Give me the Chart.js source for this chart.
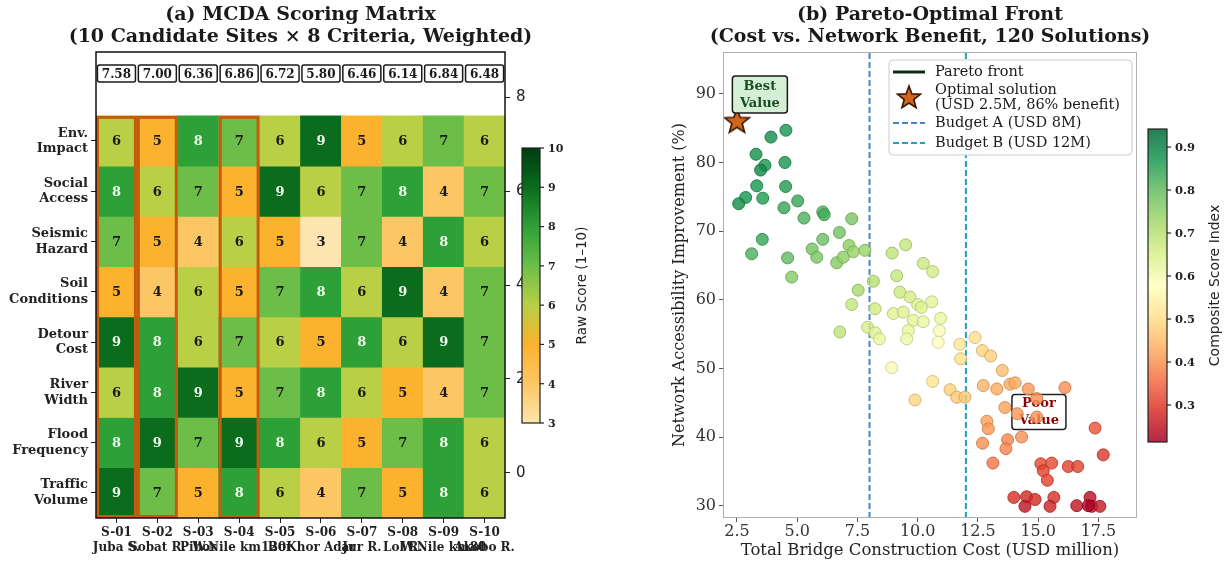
<!DOCTYPE html>
<html>
<head>
<meta charset="utf-8">
<script src="https://cdn.jsdelivr.net/npm/chart.js@4.4.1/dist/chart.umd.min.js"></script>
<style>
  html, body { margin: 0; padding: 0; background: #fff; }
  #wrap { position: relative; width: 1229px; height: 562px; }
  .panel { position: absolute; top: 0; height: 562px; }
  #left { left: 0; width: 614px; }
  #right { left: 614px; width: 615px; }
</style>
</head>
<body>
<div id="wrap">
  <div class="panel" id="left"><canvas id="heatChart"></canvas></div>
  <div class="panel" id="right"><canvas id="paretoChart"></canvas></div>
</div>
<script>
// ---- (a) MCDA matrix data
var sites = ["S-01", "S-02", "S-03", "S-04", "S-05", "S-06", "S-07", "S-08", "S-09", "S-10"];
var siteNames = ["Juba S.", "Sobat R.", "Pibor", "W.Nile km120", "Bor", "Khor Adar", "Jur R.", "Lol R.", "W.Nile km80", "Akobo R."];
var criteria = [["Env.", "Impact"], ["Social", "Access"], ["Seismic", "Hazard"], ["Soil", "Conditions"],
                ["Detour", "Cost"], ["River", "Width"], ["Flood", "Frequency"], ["Traffic", "Volume"]];
var envImpact      = [6, 5, 8, 7, 6, 9, 5, 6, 7, 6];
var socialAccess   = [8, 6, 7, 5, 9, 6, 7, 8, 4, 7];
var seismicHazard  = [7, 5, 4, 6, 5, 3, 7, 4, 8, 6];
var soilConditions = [5, 4, 6, 5, 7, 8, 6, 9, 4, 7];
var detourCost     = [9, 8, 6, 7, 6, 5, 8, 6, 9, 7];
var riverWidth     = [6, 8, 9, 5, 7, 8, 6, 5, 4, 7];
var floodFrequency = [8, 9, 7, 9, 8, 6, 5, 7, 8, 6];
var trafficVolume  = [9, 7, 5, 8, 6, 4, 7, 5, 8, 6];
var compositeScores = [7.58, 7.00, 6.36, 6.86, 6.72, 5.80, 6.46, 6.14, 6.84, 6.48];
var shortlisted = [0, 1, 3];
var scoreRows = [envImpact, socialAccess, seismicHazard, soilConditions, detourCost, riverWidth, floodFrequency, trafficVolume];

// ---- (b) Pareto data
var costs = [4.53, 3.91, 3.29, 4.49, 3.66, 3.48, 3.32, 4.52, 2.86, 2.57, 3.57, 4.45, 5.02, 5.28, 6.06, 6.12, 7.26, 3.55, 6.75, 6.06,
  3.11, 5.62, 5.81, 4.60, 7.15, 6.64, 6.91, 7.33, 7.81, 4.77, 8.94, 9.50, 9.13, 10.23, 10.62, 8.16, 7.53, 9.26, 9.68, 10.0,
  7.26, 8.23, 10.58, 8.99, 9.40, 10.95, 9.82, 10.23, 6.77, 7.92, 8.23, 8.41, 9.61, 9.54, 10.90, 10.85, 11.75, 12.38, 11.78, 12.68,
  13.03, 8.92, 13.51, 10.62, 12.72, 13.28, 13.83, 14.04, 11.34, 11.62, 11.96, 9.89, 14.59, 16.11, 14.94, 13.62, 14.13, 14.94, 12.87, 12.93,
  14.31, 13.73, 12.69, 13.66, 17.36, 17.70, 13.12, 15.11, 15.56, 15.21, 15.38, 16.25, 16.64, 13.99, 14.52, 14.87, 15.65, 14.45, 15.49, 16.60,
  17.15, 17.22, 17.56, 17.08, 10.15];
var benefits = [84.7, 83.7, 81.2, 80.0, 79.6, 78.9, 76.6, 76.5, 74.9, 74.0, 74.8, 73.4, 74.4, 71.9, 72.8, 72.4, 71.8, 68.8, 69.8, 68.8,
  66.7, 67.4, 66.2, 66.1, 67.9, 65.4, 66.2, 67.0, 67.2, 63.3, 66.8, 68.0, 63.5, 65.3, 64.1, 62.7, 61.4, 61.1, 60.4, 59.3,
  59.3, 58.7, 59.7, 58.0, 58.2, 57.3, 57.0, 56.8, 55.3, 56.0, 55.2, 54.3, 55.5, 54.3, 55.5, 53.8, 53.5, 54.5, 51.4, 52.6,
  51.8, 50.1, 49.7, 48.1, 47.5, 47.0, 47.7, 47.9, 46.9, 45.8, 45.8, 45.4, 47.0, 47.2, 45.6, 44.3, 43.4, 42.9, 42.3, 41.2,
  40.0, 39.6, 39.1, 38.3, 41.3, 37.4, 36.2, 36.1, 36.2, 35.1, 33.7, 35.7, 35.7, 31.2, 31.3, 30.9, 31.2, 29.9, 29.9, 30.0,
  31.2, 29.9, 29.9, 30.0, 58.9];
var composite = [0.87, 0.88, 0.88, 0.87, 0.87, 0.89, 0.87, 0.86, 0.87, 0.88, 0.86, 0.84, 0.84, 0.82, 0.82, 0.83, 0.77, 0.84, 0.78, 0.79,
  0.82, 0.78, 0.77, 0.80, 0.75, 0.76, 0.75, 0.74, 0.74, 0.76, 0.69, 0.68, 0.68, 0.67, 0.66, 0.70, 0.72, 0.67, 0.66, 0.64,
  0.68, 0.66, 0.63, 0.64, 0.64, 0.62, 0.63, 0.62, 0.69, 0.65, 0.64, 0.62, 0.62, 0.61, 0.59, 0.58, 0.52, 0.51, 0.51, 0.49,
  0.48, 0.59, 0.46, 0.52, 0.44, 0.43, 0.43, 0.43, 0.48, 0.47, 0.47, 0.49, 0.41, 0.40, 0.40, 0.42, 0.41, 0.40, 0.42, 0.41,
  0.40, 0.39, 0.40, 0.39, 0.33, 0.30, 0.37, 0.32, 0.32, 0.31, 0.31, 0.31, 0.31, 0.29, 0.28, 0.28, 0.29, 0.25, 0.27, 0.25,
  0.24, 0.24, 0.26, 0.22, 0.64];
var optimalCost = 2.5, optimalBenefit = 86;
var budgets = [8, 12];
var budgetLabels = ["Budget A (USD 8M)", "Budget B (USD 12M)"];
var budgetColors = ["#4a86c5", "#1fa3c4"];
var xTicks = [2.5, 5.0, 7.5, 10.0, 12.5, 15.0, 17.5];
var yTicks = [30, 40, 50, 60, 70, 80, 90];
var xMin = 1.92, xMax = 19.1, yMin = 28.2, yMax = 96.1;
var scoreMin = 0.214, scoreMax = 0.942;

var SERIF = "'DejaVu Serif', serif";
var SANS = "'DejaVu Sans', sans-serif";
Chart.defaults.font.family = SERIF;

function hexRgb(h) { return [parseInt(h.slice(1, 3), 16), parseInt(h.slice(3, 5), 16), parseInt(h.slice(5, 7), 16)]; }
function mix(a, b, f) { return [0, 1, 2].map(function (k) { return Math.round(a[k] + (b[k] - a[k]) * f); }); }

// heatmap colour scale (score 3 .. 10)
var heatStops = ["#fde5af", "#fdc664", "#fab22f", "#b8cf46", "#6cbe48", "#2ea038", "#0b6c1e", "#003c0f"];
function heatRgb(v) {
  var p = Math.max(0, Math.min(7, v - 3)), i = Math.min(6, Math.floor(p));
  return mix(hexRgb(heatStops[i]), hexRgb(heatStops[i + 1]), p - i);
}
function heatColor(v) { var c = heatRgb(v); return "rgb(" + c.join(",") + ")"; }

// RdYlGn
var rdylgn = ["#a50026", "#d73027", "#f46d43", "#fdae61", "#fee08b", "#ffffbf", "#d9ef8b", "#a6d96a", "#66bd63", "#1a9850", "#006837"];
function rdylgnRgb(t) {
  t = Math.max(0, Math.min(1, t));
  var p = t * 10, i = Math.min(9, Math.floor(p));
  return mix(hexRgb(rdylgn[i]), hexRgb(rdylgn[i + 1]), p - i);
}
function scoreColor(s, a, dark) {
  var c = rdylgnRgb((s - scoreMin) / (scoreMax - scoreMin));
  if (dark) c = c.map(function (x) { return Math.round(x * 0.82); });
  return "rgba(" + c.join(",") + "," + a + ")";
}

function starPath(ctx, cx, cy, R, r) {
  ctx.beginPath();
  for (var k = 0; k < 10; k++) {
    var rad = k % 2 === 0 ? R : r;
    var a = -Math.PI / 2 + k * Math.PI / 5;
    ctx.lineTo(cx + rad * Math.cos(a), cy + rad * Math.sin(a));
  }
  ctx.closePath();
}
function drawStar(ctx, cx, cy, R) {
  starPath(ctx, cx, cy, R, R * 0.42);
  ctx.fillStyle = "#d0651c";
  ctx.fill();
  ctx.lineWidth = 1.6;
  ctx.strokeStyle = "#3a1800";
  ctx.stroke();
}
var starImg = document.createElement("canvas");
starImg.width = 30; starImg.height = 30;
drawStar(starImg.getContext("2d"), 15, 15.5, 13);

function roundRect(ctx, x, y, w, h, r) {
  ctx.beginPath();
  ctx.moveTo(x + r, y);
  ctx.arcTo(x + w, y, x + w, y + h, r);
  ctx.arcTo(x + w, y + h, x, y + h, r);
  ctx.arcTo(x, y + h, x, y, r);
  ctx.arcTo(x, y, x + w, y, r);
  ctx.closePath();
}

function drawTitle(chart, lines) {
  var ctx = chart.ctx, a = chart.chartArea;
  ctx.save();
  ctx.fillStyle = "#1a1a1a";
  ctx.font = "bold 19px " + SERIF;
  ctx.textAlign = "center";
  ctx.textBaseline = "middle";
  ctx.fillText(lines[0], (a.left + a.right) / 2, 15);
  ctx.fillText(lines[1], (a.left + a.right) / 2, 37);
  ctx.restore();
}

// ---------- (a) heatmap
var heatDecor = {
  id: "heatDecor",
  afterDatasetsDraw: function (chart) {
    var ctx = chart.ctx, xs = chart.scales.x, ys = chart.scales.y;
    ctx.save();
    ctx.textAlign = "center";
    ctx.textBaseline = "middle";
    ctx.font = "bold 13px " + SERIF;
    chart.data.datasets.forEach(function (ds, di) {
      chart.getDatasetMeta(di).data.forEach(function (bar, i) {
        var v = ds.scores[i];
        ctx.fillStyle = v >= 8 ? "#eefaea" : "#1a1a1a";
        ctx.fillText(String(v), bar.x, (bar.y + bar.base) / 2 + 1);
      });
    });
    var colW = xs.getPixelForValue(1) - xs.getPixelForValue(0);
    var top = ys.getPixelForValue(0), bot = ys.getPixelForValue(criteria.length);
    ctx.strokeStyle = "#c65a0d";
    ctx.lineWidth = 3;
    shortlisted.forEach(function (i) {
      var cx = xs.getPixelForValue(i);
      ctx.strokeRect(cx - colW / 2 + 1.5, top + 1.5, colW - 3, bot - top - 3);
    });
    // composite boxes
    var by = ys.getPixelForValue(-0.84);
    ctx.font = "bold 12px " + SERIF;
    compositeScores.forEach(function (s, i) {
      var cx = xs.getPixelForValue(i);
      roundRect(ctx, cx - 19, by - 8.5, 38, 17, 2);
      ctx.fillStyle = "#ffffff";
      ctx.fill();
      ctx.lineWidth = 1.5;
      ctx.strokeStyle = "#1a1a1a";
      ctx.stroke();
      ctx.fillStyle = "#1a1a1a";
      ctx.fillText(s.toFixed(2), cx, by + 1);
    });
    ctx.restore();
  },
  afterDraw: function (chart) {
    var ctx = chart.ctx, a = chart.chartArea;
    ctx.save();
    ctx.strokeStyle = "#111";
    ctx.lineWidth = 1.5;
    ctx.strokeRect(a.left, a.top, a.right - a.left, a.bottom - a.top);
    // colorbar
    var cbL = 522, cbR = 540, cbT = 148, cbB = 423;
    var g = ctx.createLinearGradient(0, cbB, 0, cbT);
    heatStops.forEach(function (c, i) { g.addColorStop(i / 7, c); });
    ctx.fillStyle = g;
    ctx.fillRect(cbL, cbT, cbR - cbL, cbB - cbT);
    ctx.lineWidth = 1.2;
    ctx.strokeStyle = "#222";
    ctx.strokeRect(cbL, cbT, cbR - cbL, cbB - cbT);
    ctx.font = "bold 11px " + SERIF;
    ctx.fillStyle = "#222";
    ctx.textAlign = "left";
    ctx.textBaseline = "middle";
    for (var v = 3; v <= 10; v++) {
      var y = cbB - (v - 3) / 7 * (cbB - cbT);
      ctx.beginPath(); ctx.moveTo(cbR, y); ctx.lineTo(cbR + 4, y); ctx.stroke();
      ctx.fillText(String(v), cbR + 8, y + 1);
    }
    ctx.translate(582, (cbT + cbB) / 2);
    ctx.rotate(-Math.PI / 2);
    ctx.textAlign = "center";
    ctx.font = "13.5px " + SANS;
    ctx.fillText("Raw Score (1\u201310)", 0, 0);
    ctx.restore();
    drawTitle(chart, ["(a) MCDA Scoring Matrix", "(10 Candidate Sites \u00d7 8 Criteria, Weighted)"]);
  }
};

new Chart("heatChart", {
  type: "bar",
  data: {
    labels: sites.map(function (s, i) { return [s, siteNames[i]]; }),
    datasets: scoreRows.map(function (row, r) {
      return {
        label: criteria[r].join(" "),
        data: row.map(function () { return 1; }),
        scores: row,
        backgroundColor: row.map(heatColor),
        borderWidth: 0,
        barPercentage: 1,
        categoryPercentage: 1
      };
    })
  },
  options: {
    responsive: true,
    maintainAspectRatio: false,
    animation: false,
    events: [],
    layout: { padding: { top: 52, left: 0, right: 0, bottom: 0 } },
    plugins: { legend: { display: false }, tooltip: { enabled: false } },
    scales: {
      x: {
        stacked: true,
        grid: { offset: false, drawOnChartArea: false, tickLength: 5, color: "#222" },
        border: { display: false },
        ticks: { font: { size: 12, weight: "bold" }, color: "#222", padding: 3, maxRotation: 0, autoSkip: false },
        afterFit: function (s) { s.height = 44; }
      },
      y: {
        stacked: true, reverse: true, min: -1.27, max: 8, position: "left",
        afterBuildTicks: function (s) { s.ticks = criteria.map(function (c, i) { return { value: i + 0.5 }; }); },
        ticks: { callback: function (v, i) { return criteria[i]; }, font: { size: 13, weight: "bold" }, color: "#222", padding: 3 },
        grid: { drawOnChartArea: false, tickLength: 5, color: "#222" },
        border: { display: false },
        afterFit: function (s) { s.width = 96; }
      },
      y2: {
        display: true, position: "right", min: -0.96, max: 8.96,
        afterBuildTicks: function (s) { s.ticks = [0, 2, 4, 6, 8].map(function (v) { return { value: v }; }); },
        ticks: { font: { family: SANS, size: 15 }, color: "#222", padding: 6 },
        grid: { drawOnChartArea: false, tickLength: 5, color: "#222" },
        border: { display: false },
        afterFit: function (s) { s.width = 109; }
      }
    }
  },
  plugins: [heatDecor]
});

// ---------- (b) Pareto scatter
var paretoDecor = {
  id: "paretoDecor",
  beforeDatasetsDraw: function (chart) {
    var ctx = chart.ctx, xs = chart.scales.x, ys = chart.scales.y;
    var cx = xs.getPixelForValue(15.03), cy = ys.getPixelForValue(43.65);
    ctx.save();
    roundRect(ctx, cx - 27, cy - 17.5, 54, 35, 3);
    ctx.fillStyle = "rgba(255,255,255,0.8)";
    ctx.fill();
    ctx.lineWidth = 1.5;
    ctx.strokeStyle = "#222";
    ctx.stroke();
    ctx.fillStyle = "#8b0000";
    ctx.font = "bold 13px " + SERIF;
    ctx.textAlign = "center";
    ctx.textBaseline = "middle";
    ctx.fillText("Poor", cx, cy - 8);
    ctx.fillText("Value", cx, cy + 9);
    ctx.restore();
  },
  afterDatasetsDraw: function (chart) {
    var ctx = chart.ctx, xs = chart.scales.x, ys = chart.scales.y;
    var cx = xs.getPixelForValue(3.45), cy = ys.getPixelForValue(89.9);
    ctx.save();
    roundRect(ctx, cx - 27.5, cy - 18.5, 55, 37, 3);
    ctx.fillStyle = "#d4efd6";
    ctx.fill();
    ctx.lineWidth = 1.5;
    ctx.strokeStyle = "#1a1a1a";
    ctx.stroke();
    ctx.fillStyle = "#1b4d23";
    ctx.font = "bold 13px " + SERIF;
    ctx.textAlign = "center";
    ctx.textBaseline = "middle";
    ctx.fillText("Best", cx, cy - 8);
    ctx.fillText("Value", cx, cy + 9);
    ctx.restore();
  },
  afterDraw: function (chart) {
    var ctx = chart.ctx, a = chart.chartArea;
    ctx.save();
    ctx.strokeStyle = "#b0b0b0";
    ctx.lineWidth = 1;
    ctx.strokeRect(a.left + 0.5, a.top + 0.5, a.right - a.left - 1, a.bottom - a.top - 1);
    // legend
    var lx = 275, ly = 60, lw = 243, lh = 95;
    roundRect(ctx, lx, ly, lw, lh, 4);
    ctx.fillStyle = "rgba(255,255,255,0.92)";
    ctx.fill();
    ctx.strokeStyle = "#cccccc";
    ctx.stroke();
    ctx.font = "14.5px " + SERIF;
    ctx.fillStyle = "#1a1a1a";
    ctx.textAlign = "left";
    ctx.textBaseline = "middle";
    ctx.lineWidth = 3;
    ctx.strokeStyle = "#0b2a14";
    ctx.beginPath(); ctx.moveTo(lx + 4, 72); ctx.lineTo(lx + 36, 72); ctx.stroke();
    ctx.fillText("Pareto front", lx + 46, 72);
    drawStar(ctx, lx + 20, 98, 12);
    ctx.fillStyle = "#1a1a1a";
    ctx.fillText("Optimal solution", lx + 46, 90);
    ctx.fillText("(USD 2.5M, 86% benefit)", lx + 46, 105);
    ctx.lineWidth = 2;
    ctx.setLineDash([6, 3]);
    [123, 143].forEach(function (y, i) {
      ctx.strokeStyle = budgetColors[i];
      ctx.beginPath(); ctx.moveTo(lx + 4, y); ctx.lineTo(lx + 36, y); ctx.stroke();
      ctx.fillText(budgetLabels[i], lx + 46, y);
    });
    ctx.setLineDash([]);
    // colorbar
    var cbL = 534, cbR = 553, cbT = 129, cbB = 442;
    var g = ctx.createLinearGradient(0, cbB, 0, cbT);
    rdylgn.forEach(function (c, i) {
      var rgb = hexRgb(c);
      g.addColorStop(i / 10, "rgba(" + rgb.join(",") + ",0.85)");
    });
    ctx.fillStyle = g;
    ctx.fillRect(cbL, cbT, cbR - cbL, cbB - cbT);
    ctx.lineWidth = 1.2;
    ctx.strokeStyle = "#222";
    ctx.strokeRect(cbL, cbT, cbR - cbL, cbB - cbT);
    ctx.font = "bold 11.5px " + SERIF;
    ctx.fillStyle = "#222";
    [0.3, 0.4, 0.5, 0.6, 0.7, 0.8, 0.9].forEach(function (v) {
      var y = cbB - (v - scoreMin) / (scoreMax - scoreMin) * (cbB - cbT);
      ctx.beginPath(); ctx.moveTo(cbR, y); ctx.lineTo(cbR + 4, y); ctx.stroke();
      ctx.fillText(v.toFixed(1), cbR + 8, y + 1);
    });
    ctx.translate(601, (cbT + cbB) / 2);
    ctx.rotate(-Math.PI / 2);
    ctx.textAlign = "center";
    ctx.font = "14px " + SANS;
    ctx.fillText("Composite Score Index", 0, 0);
    ctx.restore();
    drawTitle(chart, ["(b) Pareto-Optimal Front", "(Cost vs. Network Benefit, 120 Solutions)"]);
  }
};

new Chart("paretoChart", {
  type: "scatter",
  data: {
    datasets: [
      {
        label: "Optimal solution",
        data: [{ x: optimalCost, y: optimalBenefit }],
        pointStyle: starImg
      },
      {
        label: "Solutions",
        data: costs.map(function (c, i) { return { x: c, y: benefits[i] }; }),
        backgroundColor: composite.map(function (s) { return scoreColor(s, 0.82); }),
        borderColor: composite.map(function (s) { return scoreColor(s, 0.9, true); }),
        borderWidth: 1,
        pointRadius: 6
      }
    ].concat(budgets.map(function (b, i) {
      return {
        label: budgetLabels[i],
        data: [{ x: b, y: yMin }, { x: b, y: yMax }],
        showLine: true,
        borderColor: budgetColors[i],
        borderDash: [6, 3],
        borderWidth: 2,
        pointRadius: 0
      };
    }))
  },
  options: {
    responsive: true,
    maintainAspectRatio: false,
    animation: false,
    events: [],
    layout: { padding: { top: 52, left: 54, right: 92, bottom: 0 } },
    plugins: { legend: { display: false }, tooltip: { enabled: false } },
    scales: {
      x: {
        min: xMin, max: xMax,
        afterBuildTicks: function (s) { s.ticks = xTicks.map(function (v) { return { value: v }; }); },
        ticks: { callback: function (v) { return v.toFixed(1); }, font: { size: 16 }, color: "#333", padding: 0, maxRotation: 0 },
        grid: { drawOnChartArea: false, tickLength: 4, color: "#555" },
        border: { display: false },
        title: { display: true, text: "Total Bridge Construction Cost (USD million)", font: { size: 16.5 }, color: "#222", padding: { top: 0, bottom: 1 } },
        afterFit: function (s) { s.height = 44; }
      },
      y: {
        min: yMin, max: yMax,
        afterBuildTicks: function (s) { s.ticks = yTicks.map(function (v) { return { value: v }; }); },
        ticks: { font: { size: 16 }, color: "#333", padding: 3 },
        grid: { drawOnChartArea: false, tickLength: 4, color: "#555" },
        border: { display: false },
        title: { display: true, text: "Network Accessibility Improvement (%)", font: { size: 16 }, color: "#222", padding: { top: 2, bottom: 2 } },
        afterFit: function (s) { s.width = 55; }
      }
    }
  },
  plugins: [paretoDecor]
});
</script>
</body>
</html>
